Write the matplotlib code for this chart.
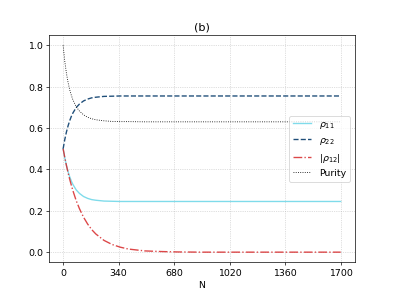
import numpy as np
import matplotlib
matplotlib.use('Agg')
import matplotlib.pyplot as plt

# values at these N
N = [0, 10, 20, 30, 40, 50, 60, 80, 100, 125, 150, 175, 200, 250, 300, 350,
     400, 500, 600, 700, 850, 1000, 1200, 1400, 1700]
rho11 = [0.500, 0.456, 0.420, 0.390, 0.365, 0.344, 0.327, 0.301, 0.284, 0.269,
         0.260, 0.254, 0.251, 0.247, 0.246, 0.245, 0.245, 0.245, 0.245, 0.245,
         0.245, 0.245, 0.245, 0.245, 0.245]
rho22 = [0.500, 0.544, 0.580, 0.610, 0.635, 0.656, 0.673, 0.699, 0.716, 0.731,
         0.740, 0.746, 0.749, 0.753, 0.754, 0.755, 0.755, 0.755, 0.755, 0.755,
         0.755, 0.755, 0.755, 0.755, 0.755]
rho12 = [0.500, 0.458, 0.420, 0.385, 0.353, 0.324, 0.297, 0.249, 0.210, 0.169,
         0.136, 0.109, 0.088, 0.057, 0.037, 0.024, 0.015, 0.006, 0.003, 0.001,
         0.000, 0.000, 0.000, 0.000, 0.000]
purity = [1.000, 0.923, 0.866, 0.821, 0.786, 0.759, 0.736, 0.703, 0.682, 0.664,
          0.652, 0.645, 0.640, 0.635, 0.632, 0.631, 0.631, 0.630, 0.630, 0.630,
          0.630, 0.630, 0.630, 0.630, 0.630]

xticks = [0, 340, 680, 1020, 1360, 1700]

plt.rcParams['font.size'] = 11

fig = plt.figure(figsize=(6.4, 4.8))
ax = fig.add_subplot(111)
ax.plot(N, rho11, color='#7fdbea', lw=1.6, label=r'$\rho_{11}$')
ax.plot(N, rho22, color='#1f4e79', lw=1.6, ls='--', label=r'$\rho_{22}$')
ax.plot(N, rho12, color='#d62728', lw=1.6, ls='-.', alpha=0.85, label=r'$|\rho_{12}|$')
ax.plot(N, purity, color='black', lw=1.0, ls=':', label='Purity')

ax.set_xticks(xticks)
ax.set_xlabel('N')
ax.set_title('(b)')
ax.grid(True, ls=':', lw=0.8, color='#b0b0b0', alpha=0.8)
ax.legend(loc='center right')

fig.savefig('out.png', dpi=394 / 6.4)
